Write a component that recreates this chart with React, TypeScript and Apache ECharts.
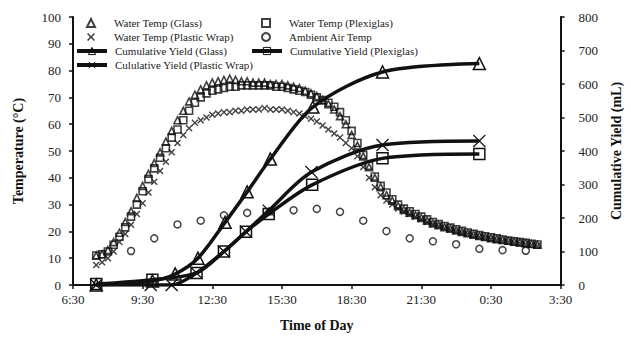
import React, { useEffect, useRef } from "react";
import * as echarts from "echarts";

// Clock hours (7.5 = 7:30, 24 = 0:00 next day)
const tempTimes = [
  7.5, 7.75, 8, 8.25, 8.5, 8.75, 9, 9.25, 9.5, 9.75, 10, 10.25, 10.5, 10.75, 11, 11.25,
  11.5, 11.75, 12, 12.25, 12.5, 12.75, 13, 13.25, 13.5, 13.75, 14, 14.25, 14.5, 14.75,
  15, 15.25, 15.5, 15.75, 16, 16.25, 16.5, 16.75, 17, 17.25, 17.5, 17.75, 18, 18.25,
  18.5, 18.75, 19, 19.25, 19.5, 19.75, 20, 20.25, 20.5, 20.75, 21, 21.25, 21.5, 21.75,
  22, 22.25, 22.5, 22.75, 23, 23.25, 23.5, 23.75, 24, 24.25, 24.5, 24.75, 25, 25.25,
  25.5, 25.75, 26, 26.25, 26.5,
];

const waterGlass = [
  11, 11.5, 13, 16, 19.5, 23.5, 27.5, 32.5, 37, 41.5, 45.5, 49.5, 53.5, 57.5, 61.5, 65,
  68.5, 71, 73, 74.5, 75.5, 76, 76.5, 77, 76.5, 76, 76, 75.5, 75.5, 75.5,
  75, 75, 75, 74.5, 74, 73.5, 72.5, 71.5, 70.5, 69, 67.5, 65.5, 63, 60,
  56, 52, 48, 44, 40, 36.5, 33.5, 31.5, 29.5, 28, 27, 26, 25, 24,
  23, 22.3, 21.6, 21, 20.4, 19.8, 19.3, 18.8, 18.3, 17.9, 17.5, 17.1, 16.8, 16.5,
  16.2, 15.9, 15.6, 15.3, 15,
];

const waterPlexi = [
  11, 11.5, 12.5, 15, 18, 21.5, 25.5, 30, 35, 39.5, 43.5, 47.5, 51, 55, 58, 61.5,
  65, 68, 70, 71.5, 72.5, 73, 73.5, 74, 74, 74.5, 74.5, 74.5, 74.5, 74.5,
  74.5, 74, 74, 73.5, 73, 72.5, 72, 71, 70, 69, 68, 66.5, 64.5, 61.5,
  57.5, 53, 48.5, 44.5, 40.5, 37, 34.5, 32, 30, 28.5, 27.5, 26.5, 25.5, 24.5,
  23.5, 22.7, 22, 21.4, 20.8, 20.2, 19.6, 19.1, 18.6, 18.2, 17.8, 17.4, 17, 16.6,
  16.3, 16, 15.7, 15.4, 15.1,
];

const waterPlastic = [
  7.5, 8.5, 10, 12.5, 16, 19, 22.5, 26.5, 30.5, 34.5, 38.5, 42.5, 46, 49.5, 53, 56,
  58.5, 60.5, 61.5, 62.5, 63.5, 64, 64.5, 64.5, 65, 65, 65.5, 65.5, 65.5, 66,
  65.5, 65.5, 65.5, 65, 64.5, 64, 63, 62, 61, 59.5, 58, 56.5, 55, 53,
  51, 48, 44, 40, 36.5, 33.5, 31.5, 30, 28.5, 27.5, 26.5, 25.5, 24.5, 23.5,
  22.7, 22, 21.3, 20.7, 20.1, 19.5, 19, 18.5, 18, 17.6, 17.2, 16.8, 16.4, 16.1,
  15.8, 15.5, 15.2, 14.9, 14.6,
];

const airTimes = [9, 10, 11, 12, 13, 14, 15, 16, 17, 18, 19, 20, 21, 22, 23, 24, 25, 26];
const airTemp = [12.7, 17.4, 22.6, 24, 26, 26.9, 27.5, 27.9, 28.4, 27.3, 24, 20.1, 17.4, 16.3, 15.2, 13.5, 13, 12.8];

const glassYieldTimes = [7.5, 9.92, 10.9, 11.88, 13.05, 14.0, 15.0, 16.83, 19.83, 24.0];
const glassYield = [0, 12, 33, 80, 187, 278, 376, 531, 636, 661];

const plexiYieldTimes = [7.5, 9.92, 11.82, 13.0, 13.95, 14.93, 16.8, 19.83, 24.0];
const plexiYield = [3, 16, 36, 100, 159, 212, 299, 378, 391];

const plasticYieldTimes = [7.5, 9.85, 10.75, 11.82, 13.0, 13.95, 14.93, 16.77, 19.83, 24.0];
const plasticYield = [0, 0, 0, 36, 100, 159, 222, 337, 418, 430];

const xStart = 6.5; // 6:30
const xTickLabels = ["6:30", "9:30", "12:30", "15:30", "18:30", "21:30", "0:30", "3:30"];

const FONT = "Liberation Serif";
const X_MARK = "path://M0,0.7L0.7,0L5,4.3L9.3,0L10,0.7L5.7,5L10,9.3L9.3,10L5,5.7L0.7,10L0,9.3L4.3,5Z";
const X_MARK_BOLD = "path://M0,1.4L1.4,0L5,3.6L8.6,0L10,1.4L6.4,5L10,8.6L8.6,10L5,6.4L1.4,10L0,8.6L3.6,5Z";

const pairs = (t: number[], v: number[]) => t.map((h, i) => [h - xStart, v[i]]);

export default function App() {
  const ref = useRef<HTMLDivElement>(null);
  useEffect(() => {
    if (!ref.current) return;
    document.body.style.margin = "0";
    const chart = echarts.init(ref.current, undefined, { renderer: "svg" });
    const hollow = { color: "rgba(255,255,255,0)", borderColor: "#111", borderWidth: 1.6 };
    const legendText = { fontFamily: FONT, fontSize: 11, color: "#222", lineHeight: 14 };
    const scatterLegend = (left: number, top: number, data: string[]) => ({
      orient: "vertical",
      left,
      top,
      padding: 0,
      itemGap: 0,
      itemWidth: 8,
      itemHeight: 8,
      textStyle: { ...legendText, padding: [0, 0, 0, 14] },
      data,
    });
    const lineLegend = (left: number, top: number, data: string[]) => ({
      orient: "vertical",
      left,
      top,
      padding: 0,
      itemGap: 0,
      itemWidth: 30,
      itemHeight: 9,
      lineStyle: { width: 4, color: "#111" },
      itemStyle: { borderWidth: 1 },
      textStyle: { ...legendText, padding: [0, 0, 0, 3] },
      data,
    });
    chart.setOption({
      animation: false,
      backgroundColor: "#fff",
      textStyle: { fontFamily: FONT },
      grid: { left: 73, right: 63, top: 17, bottom: 50, containLabel: false },
      legend: [
        scatterLegend(86, 16, ["Water Temp (Glass)", "Water Temp (Plastic Wrap)"]),
        lineLegend(75, 44, ["Cumulative Yield (Glass)", "Cululative Yield (Plastic Wrap)"]),
        scatterLegend(261, 16, ["Water Temp (Plexiglas)", "Ambient Air Temp"]),
        lineLegend(250, 44, ["Cumulative Yield (Plexiglas)"]),
      ],
      xAxis: {
        type: "value",
        min: 0,
        max: 21,
        interval: 3,
        name: "Time of Day",
        nameLocation: "middle",
        nameGap: 33,
        nameTextStyle: { fontFamily: FONT, fontSize: 14, fontWeight: "bold", color: "#111" },
        axisLine: { lineStyle: { color: "#111", width: 2 } },
        axisTick: { show: true, length: 4, lineStyle: { color: "#111", width: 1.5 } },
        axisLabel: {
          fontFamily: FONT,
          fontSize: 13,
          color: "#222",
          margin: 8,
          formatter: (v: number) => xTickLabels[Math.round(v / 3)] ?? "",
        },
        splitLine: { show: false },
      },
      yAxis: [
        {
          type: "value",
          min: 0,
          max: 100,
          interval: 10,
          name: "Temperature (°C)",
          nameLocation: "middle",
          nameGap: 48,
          nameTextStyle: { fontFamily: FONT, fontSize: 14, fontWeight: "bold", color: "#111" },
          axisLine: { show: true, lineStyle: { color: "#111", width: 2 } },
          axisTick: { show: true, length: 4, lineStyle: { color: "#111", width: 1.5 } },
          axisLabel: { fontFamily: FONT, fontSize: 13, color: "#222", margin: 12 },
          splitLine: { show: false },
        },
        {
          type: "value",
          min: 0,
          max: 800,
          interval: 100,
          position: "right",
          name: "Cumulative Yield (mL)",
          nameLocation: "middle",
          nameGap: 42,
          nameTextStyle: { fontFamily: FONT, fontSize: 14, fontWeight: "bold", color: "#111" },
          axisLine: { show: true, lineStyle: { color: "#111", width: 2 } },
          axisTick: { show: true, length: 4, lineStyle: { color: "#111", width: 1.5 } },
          axisLabel: { fontFamily: FONT, fontSize: 13, color: "#222", margin: 18 },
          splitLine: { show: false },
        },
      ],
      series: [
        {
          name: "Water Temp (Glass)",
          type: "scatter",
          symbol: "triangle",
          symbolSize: 7,
          itemStyle: hollow,
          data: pairs(tempTimes, waterGlass),
        },
        {
          name: "Water Temp (Plexiglas)",
          type: "scatter",
          symbol: "rect",
          symbolSize: 7,
          itemStyle: hollow,
          data: pairs(tempTimes, waterPlexi),
        },
        {
          name: "Water Temp (Plastic Wrap)",
          type: "scatter",
          symbol: X_MARK_BOLD,
          symbolSize: 7,
          itemStyle: { color: "#111" },
          data: pairs(tempTimes, waterPlastic),
        },
        {
          name: "Ambient Air Temp",
          type: "scatter",
          symbol: "circle",
          symbolSize: 7,
          itemStyle: { color: "rgba(255,255,255,0)", borderColor: "#111", borderWidth: 1.5 },
          data: pairs(airTimes, airTemp),
        },
        {
          name: "Cumulative Yield (Glass)",
          type: "line",
          yAxisIndex: 1,
          smooth: 0.3,
          symbol: "triangle",
          symbolSize: 12,
          showAllSymbol: true,
          lineStyle: { color: "#111", width: 3.5 },
          itemStyle: { color: "rgba(255,255,255,0)", borderColor: "#111", borderWidth: 1.5 },
          data: pairs(glassYieldTimes, glassYield),
        },
        {
          name: "Cumulative Yield (Plexiglas)",
          type: "line",
          yAxisIndex: 1,
          smooth: 0.3,
          symbol: "rect",
          symbolSize: 11,
          showAllSymbol: true,
          lineStyle: { color: "#111", width: 3.5 },
          itemStyle: { color: "rgba(255,255,255,0)", borderColor: "#111", borderWidth: 1.5 },
          data: pairs(plexiYieldTimes, plexiYield),
        },
        {
          name: "Cululative Yield (Plastic Wrap)",
          type: "line",
          yAxisIndex: 1,
          smooth: 0.3,
          symbol: X_MARK,
          symbolSize: 13,
          showAllSymbol: true,
          lineStyle: { color: "#111", width: 3.5 },
          itemStyle: { color: "#111" },
          data: pairs(plasticYieldTimes, plasticYield),
        },
      ],
    });
    return () => chart.dispose();
  }, []);
  return <div ref={ref} style={{ width: 631, height: 337 }} />;
}
